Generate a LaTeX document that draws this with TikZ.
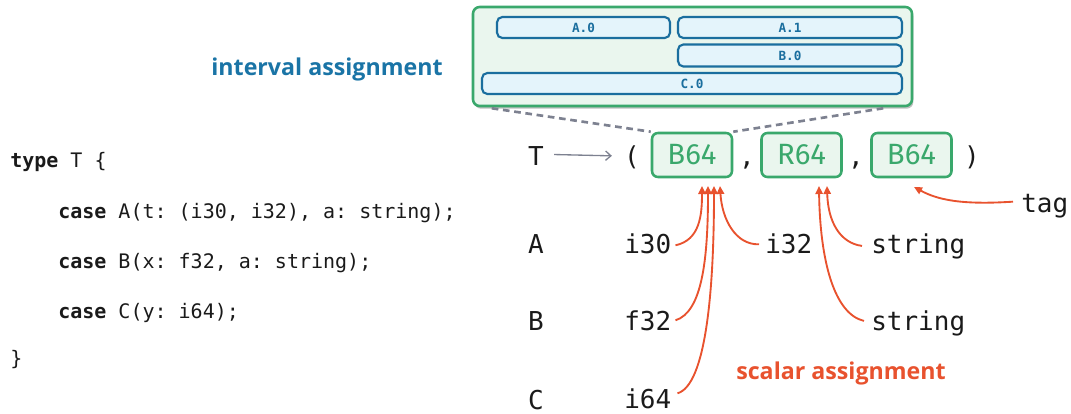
\documentclass[tikz,border=0pt]{standalone}
\usepackage{fontspec}
\setmainfont{Fira Sans}
\setmonofont{DejaVu Sans Mono}
\newfontfamily\headfont{Open Sans}
\usetikzlibrary{shadows,arrows.meta,calc}
\definecolor{gstroke}{HTML}{3AA86C}
\definecolor{gfill}{HTML}{EAF6EE}
\definecolor{bstroke}{HTML}{1A6E9E}
\definecolor{bfill}{HTML}{E4F4FB}
\definecolor{titleblue}{HTML}{1A74A6}
\definecolor{redc}{HTML}{E8522E}
\definecolor{greyc}{HTML}{7D8190}
\definecolor{inkc}{HTML}{1A1A1A}
\tikzset{
  bigbox/.style={draw=gstroke, fill=gfill, line width=1.9pt, rounded corners=5pt,
    drop shadow={shadow xshift=1pt, shadow yshift=-2pt, opacity=0.25, fill=black}},
  ibox/.style={draw=bstroke, fill=bfill, line width=1.6pt, rounded corners=4pt,
    text=bstroke, font=\ttfamily\bfseries\fontsize{9.5}{10}\selectfont, inner sep=0pt},
  gbox/.style={draw=gstroke, fill=gfill, line width=1.9pt, rounded corners=4.5pt,
    text=gstroke, font=\fontsize{22}{24}\selectfont, inner sep=0pt,
    minimum width=80*0.75pt, minimum height=44*0.75pt},
  mono/.style={font=\ttfamily\fontsize{19.5}{21}\selectfont, text=inkc, inner sep=0pt, anchor=base west},
  code/.style={font=\ttfamily\fontsize{15}{17}\selectfont, text=inkc, inner sep=0pt, anchor=base west},
  heading/.style={font=\headfont\bfseries\fontsize{17.4}{20}\selectfont, inner sep=0pt},
  redarrow/.style={draw=redc, line width=1.4pt, -{Triangle[length=6pt,width=5.5pt]}},
  dashline/.style={draw=greyc, line width=2pt, dash pattern=on 5pt off 3.5pt},
}
\begin{document}
\begin{tikzpicture}[x=0.75pt,y=-0.75pt]
\useasboundingbox (0,0) rectangle (1071,414);

% interval assignment box
\node[bigbox, minimum width=439*0.75pt, minimum height=99*0.75pt] (top) at (692.5,56.5) {};
\node[ibox, minimum width=173*0.75pt, minimum height=21*0.75pt] (a0) at (583.5,27.5) {A.0};
\node[ibox, minimum width=224*0.75pt, minimum height=21*0.75pt] (a1) at (790,27.5) {A.1};
\node[ibox, minimum width=224*0.75pt, minimum height=22*0.75pt] (b0) at (790,55.5) {B.0};
\node[ibox, minimum width=420*0.75pt, minimum height=21*0.75pt] (c0) at (692,83.5) {C.0};
\node[heading, text=titleblue] (ia) at (327,69) {interval assignment};

% tuple
\node[mono, anchor=base] (T) at (536,165) {T};
\node[mono, anchor=base] (lp) at (632,165) {(};
\node[gbox] (g1) at (692,155) {B64};
\node[mono, anchor=base] (cm1) at (747,165) {,};
\node[gbox] (g2) at (801.5,155) {R64};
\node[mono, anchor=base] (cm2) at (856,165) {,};
\node[gbox] (g3) at (911.5,155) {B64};
\node[mono, anchor=base] (rp) at (972,165) {)};
\draw[greyc, line width=1pt, -{Straight Barb[length=4pt,width=7pt]}] ($(T.east)+(10,-1)$) coordinate (ts) -- ($(lp.west)+(-12,-1)$) coordinate (te);

% dashed connectors
\draw[dashline] ($(top.south west)+(20,1)$) -- (g1.north west);
\draw[dashline] ($(top.south east)+(-30,1)$) -- (g1.north east);

% rows
\node[mono, anchor=base] (A) at (536,253) {A};
\node[mono, anchor=base] (B) at (536,330) {B};
\node[mono, anchor=base] (C) at (536,409) {C};
\node[mono] (i30) at (624,253) {i30};
\node[mono] (i32) at (765,253) {i32};
\node[mono] (sA) at (871,253) {string};
\node[mono] (f32) at (624,330) {f32};
\node[mono] (sB) at (871,330) {string};
\node[mono] (i64) at (624,408) {i64};
\node[mono] (tag) at (1021,212) {tag};

% arrow tips
\coordinate (t1) at (702,186);
\coordinate (t2) at (708,186);
\coordinate (t3) at (714,186);
\coordinate (t4) at (720,186);
\coordinate (t5) at (819,186);
\coordinate (t6) at (827,186);
\coordinate (t7) at (914,187);

\draw[redarrow] ($(i30.east)+(4,2)$) .. controls (700,240) and (702,215) .. (t1);
\draw[redarrow] ($(f32.east)+(4,0)$) .. controls (702,312) and (708,260) .. (t2);
\draw[redarrow] ($(i64.east)+(6,-5)$) .. controls (706,385) and (714,290) .. (t3);
\draw[redarrow] ($(i32.west)+(-6,1)$) .. controls (736,245) and (722,220) .. (t4);
\draw[redarrow] ($(sA.west)+(-9,0)$) .. controls (840,243) and (828,222) .. (t6);
\draw[redarrow] ($(sB.west)+(-7,-2)$) .. controls (834,314) and (820,260) .. (t5);
\draw[redarrow] ($(tag.west)+(-8,-4)$) .. controls (962,205) and (938,200) .. (t7);

\node[heading, text=redc] (sa) at (841,373) {scalar assignment};

% code
\node[code] (l1) at (10,167) {\textbf{type} T \{};
\node[code] (l2) at (58,218) {\textbf{case} A(t: (i30, i32), a: string);};
\node[code] (l3) at (58,268) {\textbf{case} B(x: f32, a: string);};
\node[code] (l4) at (58,318) {\textbf{case} C(y: i64);};
\node[code] (l5) at (10,365) {\}};
\end{tikzpicture}
\end{document}
